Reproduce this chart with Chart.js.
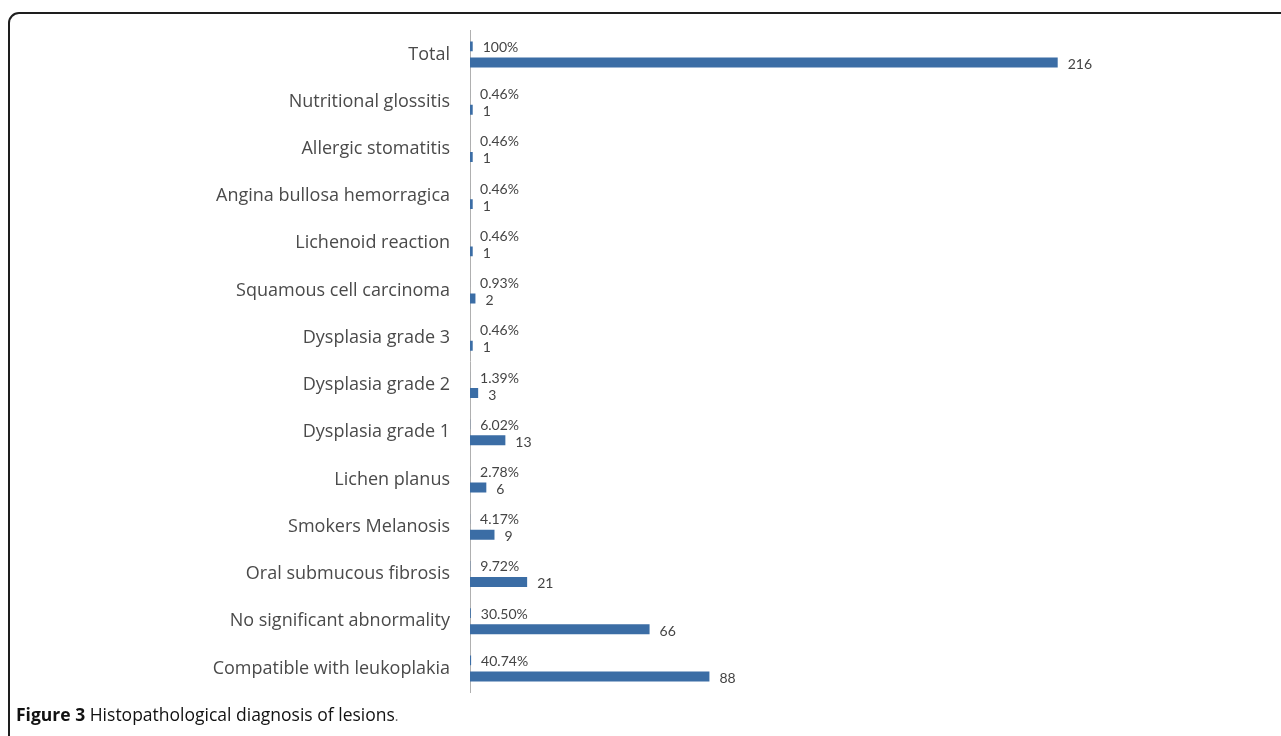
<!DOCTYPE html>
<html>
<head>
<meta charset="utf-8">
<script src="https://cdn.jsdelivr.net/npm/chart.js@4.4.1/dist/chart.umd.min.js"></script>
<style>
  html, body { margin: 0; padding: 0; background: #fff; overflow: hidden; }
  #frame {
    position: absolute; left: 8px; top: 12px; width: 1320px; height: 800px;
    border: 2px solid #1e1e1e; border-radius: 11px; box-sizing: border-box;
  }
  #myChart { position: absolute; left: 0; top: 0; }
  #caption {
    position: absolute; left: 16px; top: 702px;
    font-family: "Open Sans", sans-serif; font-size: 17.5px; color: #111;
  }
  #caption b { font-weight: 700; }
  #caption span { color: #666; font-size: 14px; }
</style>
</head>
<body>
<div id="frame"></div>
<canvas id="myChart" width="1281" height="736"></canvas>
<div id="caption"><b>Figure 3</b> Histopathological diagnosis of lesions<span>.</span></div>
<script>
// categories, top to bottom
const categories = [
  "Total",
  "Nutritional glossitis",
  "Allergic stomatitis",
  "Angina bullosa hemorragica",
  "Lichenoid reaction",
  "Squamous cell carcinoma",
  "Dysplasia grade 3",
  "Dysplasia grade 2",
  "Dysplasia grade 1",
  "Lichen planus",
  "Smokers Melanosis",
  "Oral submucous fibrosis",
  "No significant abnormality",
  "Compatible with leukoplakia",
];
// share of lesions (fraction) and its printed label
const shares = [1, 0.0046, 0.0046, 0.0046, 0.0046, 0.0093, 0.0046, 0.0139, 0.0602, 0.0278, 0.0417, 0.0972, 0.305, 0.4074];
const shareLabels = ["100%", "0.46%", "0.46%", "0.46%", "0.46%", "0.93%", "0.46%", "1.39%", "6.02%", "2.78%", "4.17%", "9.72%", "30.50%", "40.74%"];
// number of lesions
const counts = [216, 1, 1, 1, 1, 2, 1, 3, 13, 6, 9, 21, 66, 88];

const barBlue = "#3b6da5";
const labelFont = '14px Lato, "Open Sans", sans-serif';

// draws the percent and count labels next to each bar
const barLabels = {
  id: "barLabels",
  afterDatasetsDraw(chart) {
    const ctx = chart.ctx;
    ctx.save();
    ctx.font = labelFont;
    ctx.fillStyle = "#444";
    ctx.textAlign = "left";
    ctx.textBaseline = "middle";
    chart.getDatasetMeta(0).data.forEach(function (bar, i) {
      ctx.fillText(shareLabels[i], bar.x + 10, bar.y + 1);
    });
    chart.getDatasetMeta(1).data.forEach(function (bar, i) {
      ctx.fillText(String(counts[i]), bar.x + 10, bar.y + 2);
    });
    ctx.restore();
  },
};

const config = {
  type: "bar",
  data: {
    labels: categories,
    datasets: [
      {
        data: shares,
        backgroundColor: barBlue,
        categoryPercentage: 0.68,
        barPercentage: 0.62,
      },
      {
        data: counts,
        backgroundColor: barBlue,
        categoryPercentage: 0.68,
        barPercentage: 0.62,
      },
    ],
  },
  options: {
    indexAxis: "y",
    responsive: false,
    animation: false,
    layout: { padding: { top: 29, bottom: 44, right: 158, left: 0 } },
    scales: {
      x: {
        display: false,
        min: 0,
        max: 240,
      },
      y: {
        grid: { display: false, drawTicks: false },
        border: { display: true, color: "#b0b0b0", width: 1 },
        ticks: {
          color: "#4a4a4a",
          font: { family: '"Open Sans", sans-serif', size: 18 },
          padding: 20,
        },
        afterFit(scale) {
          scale.width = 470;
        },
      },
    },
    plugins: {
      legend: { display: false },
      tooltip: { enabled: false },
    },
  },
  plugins: [barLabels],
};
const myChart = new Chart(document.getElementById("myChart"), config);
</script>
</body>
</html>
